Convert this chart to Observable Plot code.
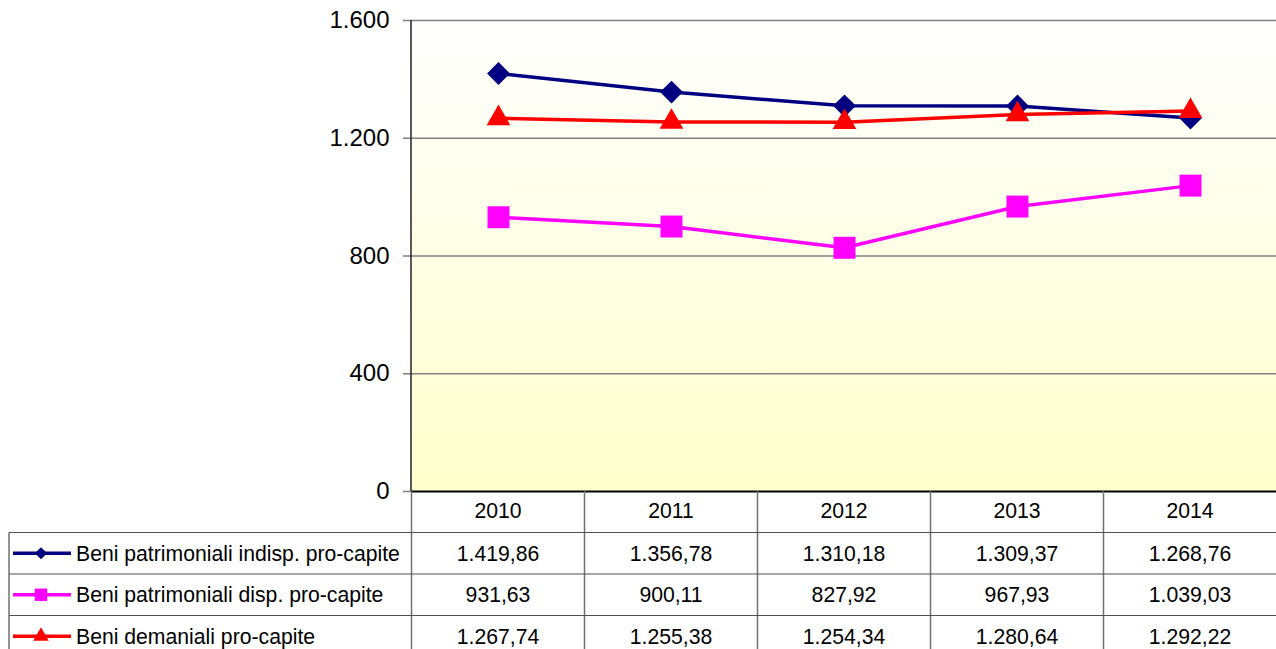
<!DOCTYPE html>
<html>
<head>
<meta charset="utf-8">
<script src="https://cdn.jsdelivr.net/npm/d3@7"></script>
<script src="https://cdn.jsdelivr.net/npm/@observablehq/plot@0.6"></script>
<style>
html, body { margin: 0; padding: 0; background: #ffffff; overflow: hidden; }
#chart svg { display: block; }
</style>
</head>
<body>
<svg width="0" height="0" style="position:absolute">
  <defs>
    <linearGradient id="bgGrad" x1="0" y1="0" x2="0" y2="1">
      <stop offset="0%" stop-color="#FFFFFF"/>
      <stop offset="100%" stop-color="#FFFFCC"/>
    </linearGradient>
  </defs>
</svg>
<div id="chart"></div>
<script>
// ---- data ----
const years = [2010, 2011, 2012, 2013, 2014];
const seriesNames = [
  "Beni patrimoniali indisp. pro-capite",
  "Beni patrimoniali disp. pro-capite",
  "Beni demaniali pro-capite"
];
const indisp = [1419.86, 1356.78, 1310.18, 1309.37, 1268.76];
const disp = [931.63, 900.11, 827.92, 967.93, 1039.03];
const demaniali = [1267.74, 1255.38, 1254.34, 1280.64, 1292.22];
const yTicks = [0, 400, 800, 1200, 1600];
const gridTicks = [400, 800, 1200, 1600];

// ---- styles ----
const seriesValues = [indisp, disp, demaniali];
const colors = ["#000080", "#FF00FF", "#FF0000"];
const symbols = ["diamond2", "square", "triangle"];
const radii = [10.3, 12.4, 8.8];
const legendRadii = [5.5, 7, 5.8];
const font = "'Liberation Sans', Arial, Helvetica, sans-serif";

const loc = d3.formatLocale({decimal: ",", thousands: ".", grouping: [3], currency: ["", "€"]});
const fmtAxis = loc.format(",.0f");
const fmtVal = loc.format(",.2f");

const rows = [];
seriesNames.forEach((s, i) => years.forEach((yr, j) => rows.push({series: s, idx: i, year: yr, value: seriesValues[i][j]})));

const W = 1276, H = 649, ML = 411, MT = 20, MB = 158;

const plot = Plot.plot({
  width: W, height: H,
  marginLeft: ML, marginRight: 0, marginTop: MT, marginBottom: MB,
  style: {fontFamily: font, background: "transparent", overflow: "visible"},
  x: {type: "point", domain: years, padding: 0.5, axis: null},
  y: {domain: [0, 1600], axis: null},
  marks: [
    Plot.frame({fill: "url(#bgGrad)", stroke: null}),
    Plot.ruleY(gridTicks, {stroke: "#808080", strokeWidth: 1.5}),
    Plot.axisY({ticks: yTicks, tickFormat: fmtAxis, label: null, tickSize: 8, tickPadding: 14, fontSize: 24, stroke: "#808080", fill: "#000", strokeWidth: 1.5}),
    Plot.ruleY([0], {stroke: "#000", strokeWidth: 2}),
    ...seriesNames.map((s, i) => Plot.line(rows.filter(d => d.idx === i), {x: "year", y: "value", stroke: colors[i], strokeWidth: 3.5})),
    ...seriesNames.map((s, i) => Plot.dot(rows.filter(d => d.idx === i), {x: "year", y: "value", fill: colors[i], stroke: "none", symbol: symbols[i], r: radii[i]}))
  ]
});

document.getElementById("chart").appendChild(plot);

// ---- data table below the plot (uses Plot's x and y scales) ----
const svg = d3.select(plot);
const xs = plot.scale("x");
const step = xs.step !== undefined ? xs.step : (xs.apply(years[1]) - xs.apply(years[0]));
const ysc = plot.scale("y");
const y0 = ysc.apply(0);
const yTop = ysc.apply(1600);
const rowH = 41.5;
const tableLeft = 9;
const tableRight = W;
const lineColor = "#707070";
const g = svg.append("g").attr("font-family", font).attr("font-size", 21.2);

// left axis line (dark)
g.append("line").attr("x1", ML).attr("x2", ML).attr("y1", yTop).attr("y2", y0)
  .attr("stroke", "#222").attr("stroke-width", 1.5);

// vertical lines
const colEdges = years.map(y => xs.apply(y) - step / 2).concat([xs.apply(years[years.length - 1]) + step / 2]);
colEdges.forEach((x, k) => {
  if (k === colEdges.length - 1) return;
  g.append("line").attr("x1", x).attr("x2", x).attr("y1", y0).attr("y2", H + 20)
    .attr("stroke", lineColor).attr("stroke-width", 1.5);
});
g.append("line").attr("x1", tableLeft).attr("x2", tableLeft).attr("y1", y0 + rowH).attr("y2", H + 20)
  .attr("stroke", lineColor).attr("stroke-width", 1.5);
// horizontal lines
for (let r = 1; r <= 3; r++) {
  g.append("line").attr("x1", tableLeft).attr("x2", tableRight).attr("y1", y0 + r * rowH).attr("y2", y0 + r * rowH)
    .attr("stroke", "#505050").attr("stroke-width", 1.2);
}
// header years
years.forEach(yr => {
  g.append("text").attr("x", xs.apply(yr)).attr("y", y0 + rowH / 2 - 1.5).attr("dy", "0.36em")
    .attr("text-anchor", "middle").attr("fill", "#000").text(yr);
});
// series rows
seriesNames.forEach((s, i) => {
  const cy = y0 + (i + 1) * rowH + rowH / 2;
  years.forEach((yr, j) => {
    g.append("text").attr("x", xs.apply(yr)).attr("y", cy).attr("dy", "0.36em")
      .attr("text-anchor", "middle").attr("fill", "#000").text(fmtVal(seriesValues[i][j]));
  });
  // legend sample
  g.append("line").attr("x1", 13).attr("x2", 71).attr("y1", cy).attr("y2", cy)
    .attr("stroke", colors[i]).attr("stroke-width", 3.5);
  const symType = {diamond2: d3.symbolDiamond2, square: d3.symbolSquare, triangle: d3.symbolTriangle}[symbols[i]];
  g.append("path").attr("transform", `translate(41,${cy})`)
    .attr("d", d3.symbol(symType, Math.PI * legendRadii[i] * legendRadii[i])())
    .attr("fill", colors[i]);
  g.append("text").attr("x", 76).attr("y", cy).attr("dy", "0.36em")
    .attr("text-anchor", "start").attr("fill", "#000").text(s);
});
</script>
</body>
</html>
